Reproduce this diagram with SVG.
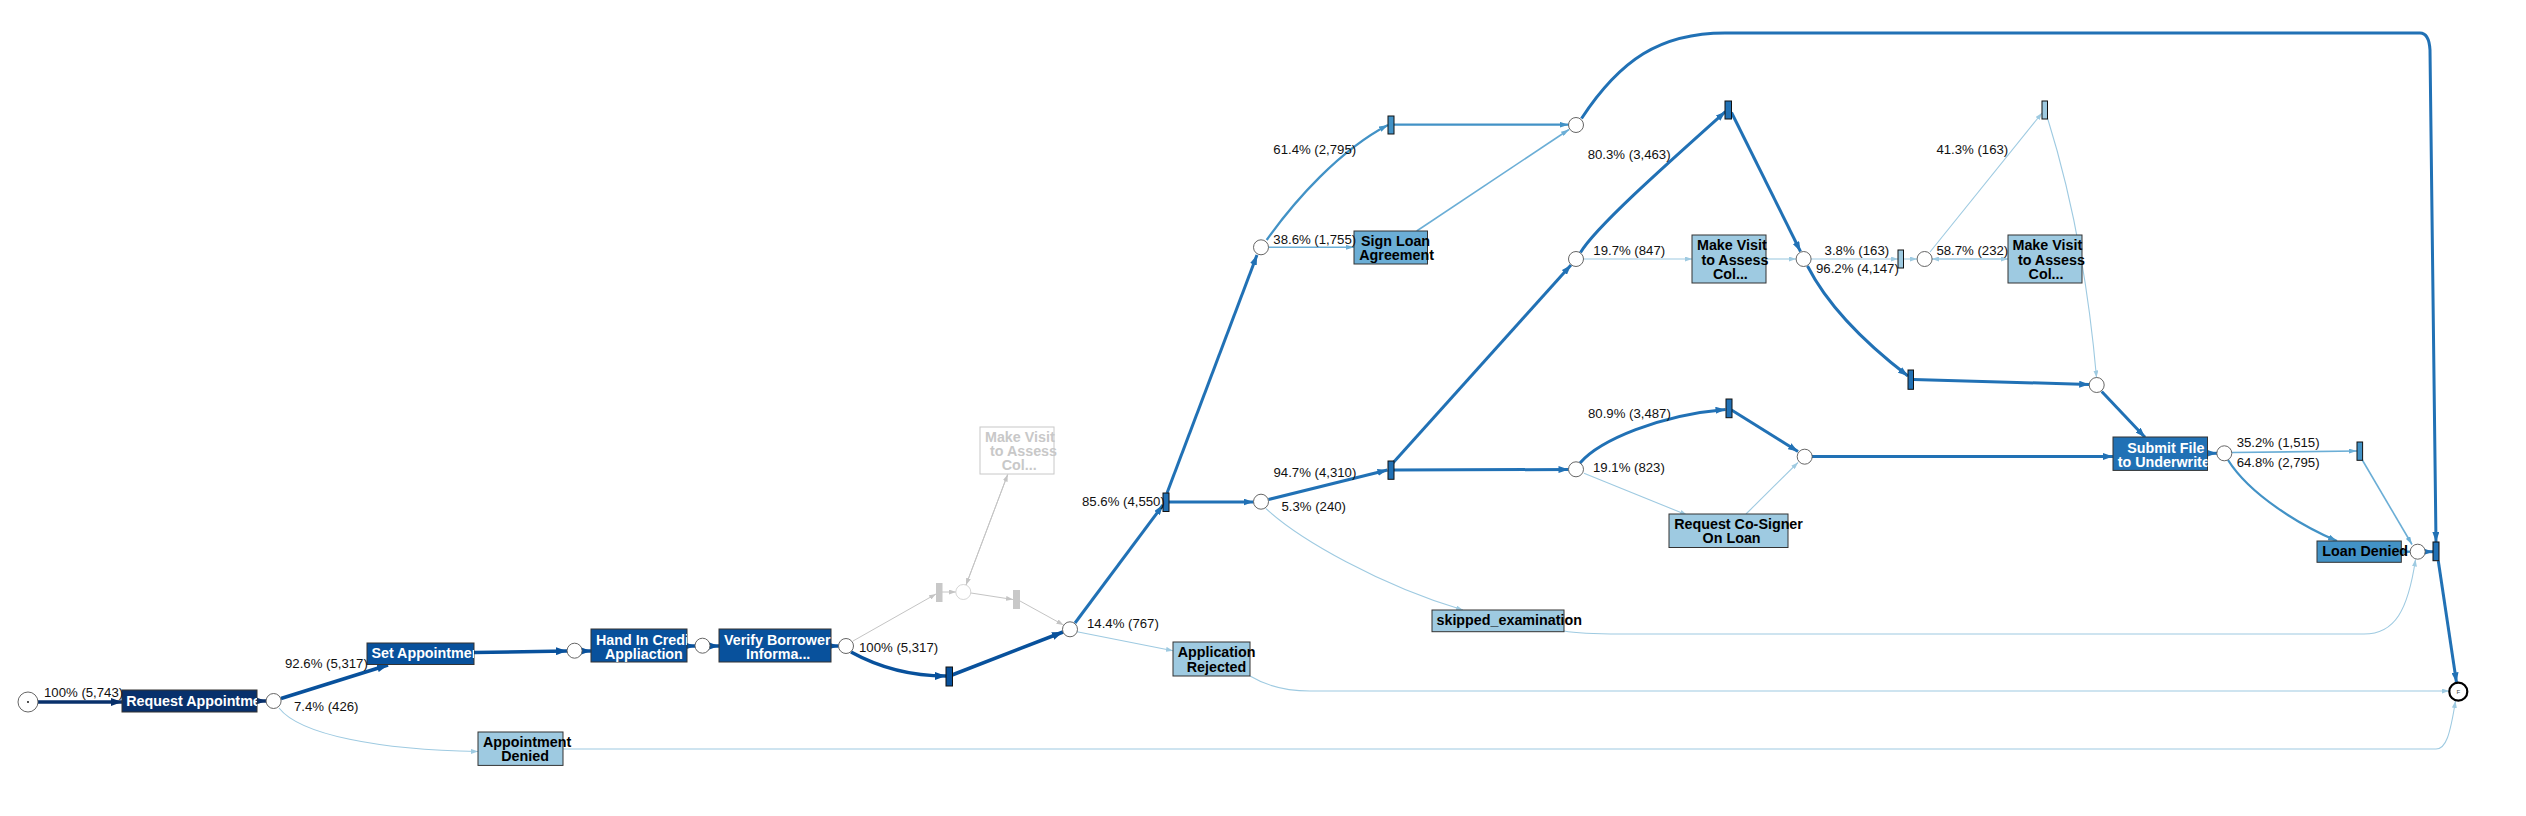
<svg xmlns="http://www.w3.org/2000/svg" width="2526" height="816" viewBox="0 0 2526 816">
<style>
.e{fill:none;stroke-linecap:butt}
.navy{stroke:#08306b;stroke-width:3.5}
.dk{stroke:#08519c;stroke-width:3.5}
.md{stroke:#2171b5;stroke-width:3}
.b4{stroke:#4292c6;stroke-width:2.3}
.b6{stroke:#6baed6;stroke-width:1.6}
.lt{stroke:#9ecae1;stroke-width:1.1}
.gr{stroke:#c4c4c4;stroke-width:1}
.place{fill:#fff;stroke:#555;stroke-width:0.9}
.box{stroke:#333;stroke-width:1}
.tr{stroke:#111;stroke-width:1}
.nl{font-family:"Liberation Sans",Arial,sans-serif;font-weight:bold;font-size:14.3px}
.w{fill:#fff}
.k{fill:#000}
.g{fill:#c8c8c8}
.el{font-family:"Liberation Sans",Arial,sans-serif;font-size:13.2px;fill:#111}
</style>
<defs>
<marker id="a-navy" markerUnits="userSpaceOnUse" markerWidth="11" markerHeight="8" refX="11" refY="4" orient="auto" viewBox="0 0 11 8"><path d="M0,0L11,4L0,8z" fill="#08306b"/></marker>
<marker id="a-dk" markerUnits="userSpaceOnUse" markerWidth="11" markerHeight="8" refX="11" refY="4" orient="auto" viewBox="0 0 11 8"><path d="M0,0L11,4L0,8z" fill="#08519c"/></marker>
<marker id="a-md" markerUnits="userSpaceOnUse" markerWidth="10" markerHeight="7" refX="10" refY="3.5" orient="auto" viewBox="0 0 10 7"><path d="M0,0L10,3.5L0,7z" fill="#2171b5"/></marker>
<marker id="a-b4" markerUnits="userSpaceOnUse" markerWidth="9" markerHeight="6" refX="9" refY="3" orient="auto" viewBox="0 0 9 6"><path d="M0,0L9,3L0,6z" fill="#4292c6"/></marker>
<marker id="a-b6" markerUnits="userSpaceOnUse" markerWidth="8" markerHeight="5" refX="8" refY="2.5" orient="auto" viewBox="0 0 8 5"><path d="M0,0L8,2.5L0,5z" fill="#6baed6"/></marker>
<marker id="a-lt" markerUnits="userSpaceOnUse" markerWidth="7" markerHeight="5" refX="7" refY="2.5" orient="auto" viewBox="0 0 7 5"><path d="M0,0L7,2.5L0,5z" fill="#9ecae1"/></marker>
<marker id="a-gr" markerUnits="userSpaceOnUse" markerWidth="7" markerHeight="5" refX="7" refY="2.5" orient="auto" viewBox="0 0 7 5"><path d="M0,0L7,2.5L0,5z" fill="#c4c4c4"/></marker>
<clipPath id="c-req"><rect x="122" y="690" width="135" height="22"/></clipPath>
<clipPath id="c-set"><rect x="367" y="643" width="107" height="21.5"/></clipPath>
<clipPath id="c-hand"><rect x="591" y="629" width="96" height="33"/></clipPath>
<clipPath id="c-ver"><rect x="719" y="629" width="112" height="33"/></clipPath>
<clipPath id="c-sub"><rect x="2113" y="437" width="94.5" height="33.4"/></clipPath>
</defs>
<rect width="2526" height="816" fill="#fff"/>

<g id="connectors">
<path class="e navy" d="M38,702 L122,702" marker-end="url(#a-navy)"/>
<path class="e navy" d="M257,701 L266,701" marker-end="url(#a-navy)"/>
<path class="e dk" d="M281,698.5 L388,665" marker-end="url(#a-dk)"/>
<path class="e lt" d="M279,708 C300,735 380,750 478,751.5" marker-end="url(#a-lt)"/>
<path class="e dk" d="M474,652.5 L567,651" marker-end="url(#a-dk)"/>
<path class="e dk" d="M582,651 L591,651" marker-end="url(#a-dk)"/>
<path class="e dk" d="M687,646 L695,646" marker-end="url(#a-dk)"/>
<path class="e dk" d="M710,646 L719,646" marker-end="url(#a-dk)"/>
<path class="e dk" d="M831,646 L838.5,646" marker-end="url(#a-dk)"/>
<path class="e dk" d="M851,652 C880,668 910,676 946,676" marker-end="url(#a-dk)"/>
<path class="e dk" d="M952,675 L1063,632" marker-end="url(#a-dk)"/>
<path class="e gr" d="M853,641 L936,594" marker-end="url(#a-gr)"/>
<path class="e gr" d="M942,592 L956,592" marker-end="url(#a-gr)"/>
<path class="e gr" d="M966,585 L1007.7,474.5" marker-end="url(#a-gr)"/>
<path class="e gr" d="M1007.7,474.5 L966,585" marker-end="url(#a-gr)"/>
<path class="e gr" d="M971,593 L1013,599.5" marker-end="url(#a-gr)"/>
<path class="e gr" d="M1020,601 L1063.5,625" marker-end="url(#a-gr)"/>
<path class="e lt" d="M1077,631.7 L1173,650.7" marker-end="url(#a-lt)"/>
<path class="e lt" d="M1250,676 C1270,688 1290,691 1310,691 L2449,691" marker-end="url(#a-lt)"/>
<path class="e md" d="M1075,623 L1163,505" marker-end="url(#a-md)"/>
<path class="e md" d="M1169,502 L1253.5,502" marker-end="url(#a-md)"/>
<path class="e md" d="M1167,493 L1257,255" marker-end="url(#a-md)"/>
<path class="e b4" d="M1266.7,240 C1295,200 1340,150 1388,125" marker-end="url(#a-b4)"/>
<path class="e b6" d="M1268.5,247.3 L1354,247.3" marker-end="url(#a-b6)"/>
<path class="e b4" d="M1394,124.7 L1568.5,124.7" marker-end="url(#a-b4)"/>
<path class="e b6" d="M1416.7,231 L1569,129.5" marker-end="url(#a-b6)"/>
<path class="e md" d="M1581.5,118.5 C1620,60 1660,33 1725,33 L2420,33 Q2429,33 2430,50 L2436,542" marker-end="url(#a-md)"/>
<path class="e md" d="M1268.5,499.5 L1387.5,470" marker-end="url(#a-md)"/>
<path class="e lt" d="M1265.7,508.3 C1300,540 1380,585 1463,610" marker-end="url(#a-lt)"/>
<path class="e md" d="M1392,464 L1571,265" marker-end="url(#a-md)"/>
<path class="e md" d="M1394,470 L1568.5,469.5" marker-end="url(#a-md)"/>
<path class="e md" d="M1580.5,252.5 C1595,228 1660,170 1725.5,111.5" marker-end="url(#a-md)"/>
<path class="e lt" d="M1583.5,259 L1692,259" marker-end="url(#a-lt)"/>
<path class="e lt" d="M1766,259 L1796,259" marker-end="url(#a-lt)"/>
<path class="e md" d="M1731.5,112.5 L1800.5,251.5" marker-end="url(#a-md)"/>
<path class="e lt" d="M1811,259 L1898,259" marker-end="url(#a-lt)"/>
<path class="e lt" d="M1903.5,259 L1917,259" marker-end="url(#a-lt)"/>
<path class="e lt" d="M1932,259 L2008,259" marker-end="url(#a-lt)"/>
<path class="e lt" d="M2008,259 L1932,259" marker-end="url(#a-lt)"/>
<path class="e lt" d="M1930,252 L2042,113" marker-end="url(#a-lt)"/>
<path class="e lt" d="M2047.5,118 C2070,190 2088,280 2096.5,377.5" marker-end="url(#a-lt)"/>
<path class="e md" d="M1807.5,266 Q1835,320 1908,376" marker-end="url(#a-md)"/>
<path class="e md" d="M1913.5,379.5 L2089.2,384.5" marker-end="url(#a-md)"/>
<path class="e md" d="M2101.7,391.5 L2145,437.3" marker-end="url(#a-md)"/>
<path class="e md" d="M1580,463 C1600,440 1660,415 1725.5,409.5" marker-end="url(#a-md)"/>
<path class="e lt" d="M1584,473.3 L1687,515" marker-end="url(#a-lt)"/>
<path class="e lt" d="M1746,514 L1798,462.5" marker-end="url(#a-lt)"/>
<path class="e md" d="M1731.5,410 L1798,451.5" marker-end="url(#a-md)"/>
<path class="e md" d="M1812,456.5 L2113,456.5" marker-end="url(#a-md)"/>
<path class="e md" d="M2208,453.3 L2217,453.3" marker-end="url(#a-md)"/>
<path class="e b6" d="M2232,452.5 L2357,451" marker-end="url(#a-b6)"/>
<path class="e b4" d="M2228,460 C2250,495 2300,525 2337,541" marker-end="url(#a-b4)"/>
<path class="e b6" d="M2362.3,460 L2412,544.5" marker-end="url(#a-b6)"/>
<path class="e b4" d="M2401.7,551.7 L2410.2,551.7" marker-end="url(#a-b4)"/>
<path class="e lt" d="M1564,631 C1580,634 1600,634 1620,634 L2364,634 C2395,634 2408,610 2415.5,559.5" marker-end="url(#a-lt)"/>
<path class="e md" d="M2425.2,551.7 L2433,551.7" marker-end="url(#a-md)"/>
<path class="e md" d="M2438.3,561 L2456.5,682.5" marker-end="url(#a-md)"/>
<path class="e lt" d="M563,749 L2436,749 C2446,749 2450,735 2455.5,701" marker-end="url(#a-lt)"/>
</g>

<g id="start"><circle class="place" cx="28" cy="702" r="10"/><circle cx="28" cy="702" r="0.9" fill="#000"/></g>
<g id="end"><circle cx="2458.3" cy="691.7" r="9" fill="#fff" stroke="#000" stroke-width="2.2"/><text x="2458.3" y="694" font-family="Liberation Sans,Arial,sans-serif" font-size="6" text-anchor="middle" fill="#444">F</text></g>

<g id="places">
<circle id="p1" class="place" cx="273.6" cy="701" r="7.5"/>
<circle id="p2" class="place" cx="574.6" cy="650.7" r="7.5"/>
<circle id="p3" class="place" cx="702.5" cy="645.7" r="7.5"/>
<circle id="p4" class="place" cx="846" cy="646" r="7.5"/>
<circle id="p5" class="place" cx="1070" cy="629.3" r="7.5"/>
<circle id="p6" class="place" cx="1261" cy="501.7" r="7.5"/>
<circle id="p7" class="place" cx="1261" cy="247.3" r="7.5"/>
<circle id="p8" class="place" cx="1576" cy="125" r="7.5"/>
<circle id="p9" class="place" cx="1576" cy="259" r="7.5"/>
<circle id="p10" class="place" cx="1576" cy="469.3" r="7.5"/>
<circle id="p11" class="place" cx="1803.6" cy="259" r="7.5"/>
<circle id="p12" class="place" cx="1924.6" cy="259" r="7.5"/>
<circle id="p13" class="place" cx="2096.7" cy="385" r="7.5"/>
<circle id="p14" class="place" cx="1804.7" cy="456.7" r="7.5"/>
<circle id="p15" class="place" cx="2224.3" cy="453.3" r="7.5"/>
<circle id="p16" class="place" cx="2417.7" cy="551.7" r="7.5"/>
<circle id="pg" cx="963.3" cy="592" r="7.5" fill="#fff" stroke="#d0d0d0" stroke-width="0.9"/>
</g>

<g id="transitions">
<rect id="t1" class="tr" x="946" y="667" width="6.5" height="19" fill="#08519c"/>
<rect id="t2" class="tr" x="1163" y="493" width="6" height="18.5" fill="#2171b5"/>
<rect id="t3" class="tr" x="1388" y="116" width="6" height="18" fill="#4292c6"/>
<rect id="t4" class="tr" x="1388" y="461" width="6" height="18.3" fill="#2171b5"/>
<rect id="t5" class="tr" x="1725" y="101" width="6.5" height="18" fill="#2171b5"/>
<rect id="t6" class="tr" x="1726" y="399" width="6" height="18.7" fill="#2171b5"/>
<rect id="t7" class="tr" x="1898" y="250" width="5.5" height="18" fill="#9ecae1"/>
<rect id="t8" class="tr" x="2042" y="101" width="5.5" height="18" fill="#9ecae1"/>
<rect id="t9" class="tr" x="1908" y="370" width="5.5" height="19.3" fill="#2171b5"/>
<rect id="t10" class="tr" x="2357" y="442" width="5.6" height="18.3" fill="#4292c6"/>
<rect id="t11" class="tr" x="2433" y="542" width="6" height="18.7" fill="#2171b5"/>
<rect id="tg1" x="936" y="583" width="6.5" height="19" fill="#c8c8c8"/>
<rect id="tg2" x="1013" y="590" width="7" height="19" fill="#c8c8c8"/>
</g>

<g id="n-request-appointment"><rect class="box" x="122" y="690" width="135" height="22" fill="#08306b"/><text class="nl w" clip-path="url(#c-req)" x="126.3" y="705.5">Request Appointment</text></g>
<g id="n-set-appointment"><rect class="box" x="367" y="643" width="107" height="21.5" fill="#08519c"/><text class="nl w" clip-path="url(#c-set)" x="371.4" y="658.3">Set Appointment</text></g>
<g id="n-hand-in"><rect class="box" x="591" y="629" width="96" height="33" fill="#08519c"/><text class="nl w" clip-path="url(#c-hand)"><tspan x="596" y="644.5">Hand In Credit</tspan><tspan x="605" y="658.5">Appliaction</tspan></text></g>
<g id="n-verify"><rect class="box" x="719" y="629" width="112" height="33" fill="#08519c"/><text class="nl w" clip-path="url(#c-ver)"><tspan x="724" y="644.5">Verify Borrower</tspan><tspan x="746" y="658.5">Informa...</tspan></text></g>
<g id="n-appointment-denied"><rect class="box" x="478" y="732" width="85" height="33.4" fill="#9ecae1"/><text class="nl k"><tspan x="483" y="746.7">Appointment</tspan><tspan x="501.3" y="761">Denied</tspan></text></g>
<g id="n-make-visit-grey"><rect x="980" y="427" width="74" height="47" fill="#fff" stroke="#c8c8c8" stroke-width="1"/><text class="nl g"><tspan x="985" y="441.5">Make Visit</tspan><tspan x="990" y="456">to Assess</tspan><tspan x="1001.7" y="470.3">Col...</tspan></text></g>
<g id="n-application-rejected"><rect class="box" x="1173" y="642" width="77" height="34" fill="#9ecae1"/><text class="nl k"><tspan x="1177.7" y="657.3">Application</tspan><tspan x="1186.7" y="672">Rejected</tspan></text></g>
<g id="n-sign-loan"><rect class="box" x="1354" y="231" width="73.5" height="33" fill="#6baed6"/><text class="nl k"><tspan x="1361" y="246">Sign Loan</tspan><tspan x="1359.3" y="260">Agreement</tspan></text></g>
<g id="n-make-visit-1"><rect class="box" x="1692" y="235" width="74" height="48" fill="#9ecae1"/><text class="nl k"><tspan x="1697" y="250">Make Visit</tspan><tspan x="1701.4" y="265">to Assess</tspan><tspan x="1712.9" y="279">Col...</tspan></text></g>
<g id="n-make-visit-2"><rect class="box" x="2008" y="235" width="74" height="48" fill="#9ecae1"/><text class="nl k"><tspan x="2012.5" y="250">Make Visit</tspan><tspan x="2017.9" y="265">to Assess</tspan><tspan x="2028.6" y="279">Col...</tspan></text></g>
<g id="n-co-signer"><rect class="box" x="1669" y="514" width="119" height="33.5" fill="#9ecae1"/><text class="nl k"><tspan x="1674.2" y="529">Request Co-Signer</tspan><tspan x="1702.6" y="543.3">On Loan</tspan></text></g>
<g id="n-skipped"><rect class="box" x="1432" y="610" width="132" height="21.7" fill="#9ecae1"/><text class="nl k" x="1436.5" y="624.8">skipped_examination</text></g>
<g id="n-submit"><rect class="box" x="2113" y="437" width="94.5" height="33.4" fill="#2171b5"/><text class="nl w" clip-path="url(#c-sub)"><tspan x="2127.3" y="452.7">Submit File</tspan><tspan x="2117.7" y="467">to Underwriter</tspan></text></g>
<g id="n-loan-denied"><rect class="box" x="2317" y="541" width="84.3" height="21.3" fill="#4292c6"/><text class="nl k" x="2322.3" y="556">Loan Denied</text></g>

<g id="edge-labels">
<text class="el" x="44" y="697">100% (5,743)</text>
<text class="el" x="285" y="668">92.6% (5,317)</text>
<text class="el" x="294" y="711">7.4% (426)</text>
<text class="el" x="859" y="652">100% (5,317)</text>
<text class="el" x="1087" y="628">14.4% (767)</text>
<text class="el" x="1082" y="506">85.6% (4,550)</text>
<text class="el" x="1273.5" y="476.5">94.7% (4,310)</text>
<text class="el" x="1281.5" y="511">5.3% (240)</text>
<text class="el" x="1273.3" y="154">61.4% (2,795)</text>
<text class="el" x="1273.3" y="244">38.6% (1,755)</text>
<text class="el" x="1587.7" y="159.3">80.3% (3,463)</text>
<text class="el" x="1593.3" y="255">19.7% (847)</text>
<text class="el" x="1588" y="418.3">80.9% (3,487)</text>
<text class="el" x="1593" y="471.7">19.1% (823)</text>
<text class="el" x="1824.6" y="255">3.8% (163)</text>
<text class="el" x="1816" y="272.7">96.2% (4,147)</text>
<text class="el" x="1936.4" y="255">58.7% (232)</text>
<text class="el" x="1936.4" y="154">41.3% (163)</text>
<text class="el" x="2236.7" y="446.7">35.2% (1,515)</text>
<text class="el" x="2236.7" y="466.7">64.8% (2,795)</text>
</g>
</svg>
